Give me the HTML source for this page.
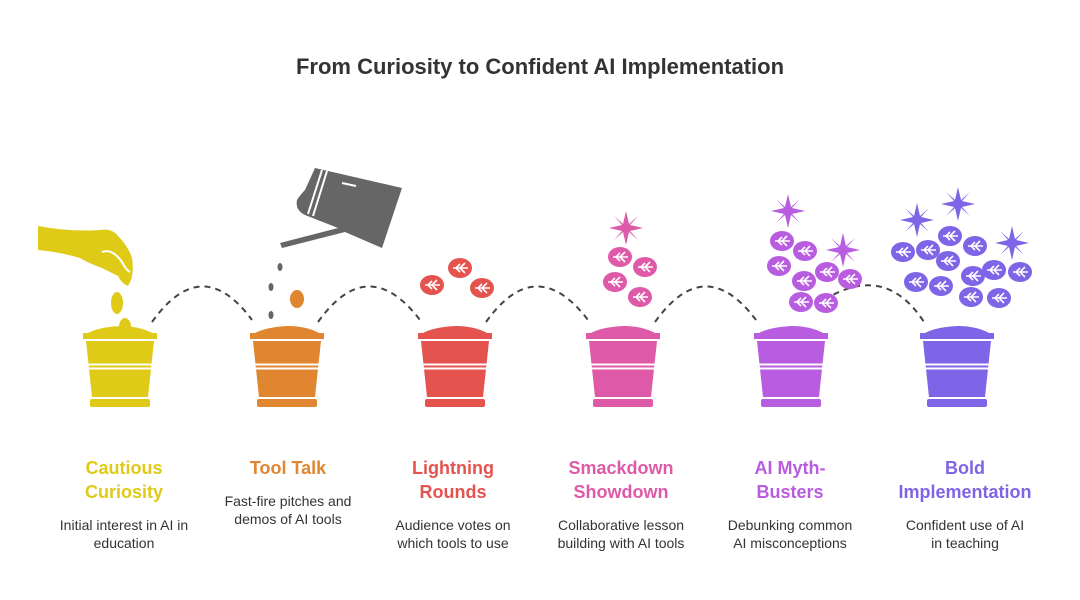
<!DOCTYPE html>
<html><head><meta charset="utf-8"><style>
body{margin:0;background:#fff;width:1080px;height:600px;overflow:hidden;font-family:"Liberation Sans",sans-serif}
.t{position:absolute;width:160px;text-align:center;font-weight:bold;font-size:18px;line-height:24px}
.d{position:absolute;width:150px;text-align:center;font-size:14px;line-height:18px;color:#333}
</style></head><body>
<svg width="1080" height="600" style="position:absolute;left:0;top:0">
<defs>
<g id="pot">
<path d="M-34,334 C-25,329 -15,327 0,326 C15,326 25,329 34,334Z"/>
<rect x="-37" y="333" width="74" height="6"/>
<path d="M-34,341 L34,341 L28,397 L-28,397Z"/>
<rect x="-32" y="363.5" width="64" height="2" fill="#fff"/>
<rect x="-32" y="367.5" width="64" height="2" fill="#fff"/>
<rect x="-30" y="399" width="60" height="8" rx="2"/>
</g>
<g id="leaf"><ellipse rx="12" ry="10"/><path d="M-7,0 L8,0 M0,0 L5,-5 M0,0 L5,5 M-4,0 L0,-4 M-4,0 L0,4" stroke="#fff" stroke-width="1.6" fill="none"/></g>
<g id="fl"><path d="M0,-17 L3,-4 L12,-12 L4,-3 L17,0 L4,3 L12,12 L3,4 L0,17 L-3,4 L-12,12 L-4,3 L-17,0 L-4,-3 L-12,-12 L-3,-4Z"/></g>
</defs>
<text x="540" y="74" text-anchor="middle" font-size="22" font-weight="bold" fill="#333" font-family="Liberation Sans">From Curiosity to Confident AI Implementation</text>
<g fill="none" stroke="#444" stroke-width="2" stroke-dasharray="6,5">
<path d="M152,322 Q202,252 252,320"/>
<path d="M318,322 Q368,252 420,320"/>
<path d="M486,322 Q536,252 588,320"/>
<path d="M655,322 Q705,252 756,320"/>
<path d="M824,300 Q885,262 924,322"/>
</g>
<use href="#pot" x="120" fill="#DFCB17"/>
<use href="#pot" x="287" fill="#E08630"/>
<use href="#pot" x="455" fill="#E5534F"/>
<use href="#pot" x="623" fill="#DE5AA8"/>
<use href="#pot" x="791" fill="#B85CE0"/>
<use href="#pot" x="957" fill="#7E64E6"/>
<path fill="#DFCB17" d="M38,226 Q70,232 100,230 Q112,228 118,236 Q128,246 132,258 Q134,270 131,280 L128,286 Q122,284 118,276 Q110,272 102,268 Q88,263 80,258 Q60,252 38,250Z"/>
<path d="M102,252 Q112,248 122,262 Q126,270 130,272" stroke="#fff" stroke-width="2" fill="none"/>
<ellipse cx="117" cy="303" rx="6" ry="11" fill="#DFCB17"/>
<ellipse cx="125" cy="327" rx="6" ry="9" fill="#DFCB17"/>
<path fill="#666" d="M315,168 L402,188 L382,248 L345,232 L282,248 L280,243 L338,228 L305,215 Q295,210 297,200 Q300,195 305,190Z"/>
<path d="M322,170 L308,214 M327,171 L313,216" stroke="#fff" stroke-width="2"/>
<path d="M342,183 L356,186" stroke="#fff" stroke-width="2"/>
<g fill="#666"><ellipse cx="280" cy="267" rx="2.5" ry="4"/><ellipse cx="271" cy="287" rx="2.5" ry="4"/><ellipse cx="271" cy="315" rx="2.5" ry="4"/></g>
<ellipse cx="297" cy="299" rx="7" ry="9" fill="#E08630"/>
<g fill="#E5534F"><use href="#leaf" x="432" y="285"/><use href="#leaf" x="460" y="268"/><use href="#leaf" x="482" y="288"/></g>
<g fill="#DE5AA8"><use href="#fl" x="626" y="228"/><use href="#leaf" x="620" y="257"/><use href="#leaf" x="645" y="267"/><use href="#leaf" x="615" y="282"/><use href="#leaf" x="640" y="297"/></g>
<g fill="#B85CE0"><use href="#fl" x="788" y="211"/><use href="#fl" x="843" y="250"/><use href="#leaf" x="782" y="241"/><use href="#leaf" x="805" y="251"/><use href="#leaf" x="779" y="266"/><use href="#leaf" x="804" y="281"/><use href="#leaf" x="827" y="272"/><use href="#leaf" x="850" y="279"/><use href="#leaf" x="801" y="302"/><use href="#leaf" x="826" y="303"/></g>
<g fill="#7E64E6"><use href="#fl" x="917" y="220"/><use href="#fl" x="958" y="204"/><use href="#fl" x="1012" y="243"/><use href="#leaf" x="903" y="252"/><use href="#leaf" x="928" y="250"/><use href="#leaf" x="950" y="236"/><use href="#leaf" x="975" y="246"/><use href="#leaf" x="948" y="261"/><use href="#leaf" x="973" y="276"/><use href="#leaf" x="994" y="270"/><use href="#leaf" x="1020" y="272"/><use href="#leaf" x="916" y="282"/><use href="#leaf" x="941" y="286"/><use href="#leaf" x="971" y="297"/><use href="#leaf" x="999" y="298"/></g>
</svg>
<div class="t" style="left:44px;top:456px;color:#DFCB17">Cautious<br>Curiosity</div>
<div class="d" style="left:49px;top:516px">Initial interest in AI in education</div>
<div class="t" style="left:208px;top:456px;color:#E08630">Tool Talk</div>
<div class="d" style="left:213px;top:492px">Fast-fire pitches and demos of AI tools</div>
<div class="t" style="left:373px;top:456px;color:#E5534F">Lightning<br>Rounds</div>
<div class="d" style="left:378px;top:516px">Audience votes on which tools to use</div>
<div class="t" style="left:541px;top:456px;color:#DE5AA8">Smackdown<br>Showdown</div>
<div class="d" style="left:546px;top:516px">Collaborative lesson building with AI tools</div>
<div class="t" style="left:710px;top:456px;color:#B85CE0">AI Myth-<br>Busters</div>
<div class="d" style="left:715px;top:516px">Debunking common<br>AI misconceptions</div>
<div class="t" style="left:885px;top:456px;color:#7E64E6">Bold<br>Implementation</div>
<div class="d" style="left:890px;top:516px">Confident use of AI<br>in teaching</div>
</body></html>
